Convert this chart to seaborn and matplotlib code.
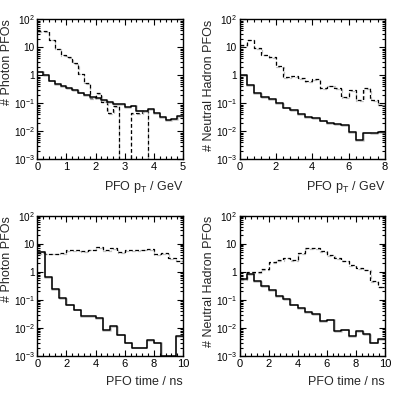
import numpy as np
import pandas as pd
import matplotlib
matplotlib.use("Agg")
import matplotlib.pyplot as plt
import matplotlib.patheffects as pe
from matplotlib.ticker import FixedLocator, FixedFormatter, AutoMinorLocator, LogLocator, NullFormatter
import seaborn as sns

sns.set_theme(style="ticks")
plt.rcParams['font.family'] = ['Liberation Sans', 'DejaVu Sans']
plt.rcParams['mathtext.fontset'] = 'custom'
plt.rcParams['mathtext.rm'] = 'Liberation Sans'
plt.rcParams['mathtext.it'] = 'Liberation Sans'
plt.rcParams['mathtext.default'] = 'regular'

# photon pT, 0-5 GeV, 0.2 GeV bins
pt_ph_edges = np.linspace(0, 5, 26)
pt_ph_solid = [1.35, 1.0, 0.65, 0.5, 0.42, 0.35, 0.3, 0.24, 0.2, 0.17, 0.15, 0.13, 0.11,
               0.097, 0.095, 0.074, 0.083, 0.055, 0.052, 0.063, 0.044, 0.033, 0.025, 0.027, 0.035]
pt_ph_dash = [38, 38, 19, 9, 5.2, 4.6, 2.8, 1.15, 0.52, 0.15, 0.23, 0.115, 0.044, 0.08,
              0, 0, 0.045, 0.045, 0.052, 0, 0, 0, 0, 0, 0]

# neutral hadron pT, 0-8 GeV, 0.4 GeV bins
pt_nh_edges = np.linspace(0, 8, 21)
pt_nh_solid = [1.0, 0.46, 0.23, 0.17, 0.14, 0.1, 0.07, 0.056, 0.04, 0.033, 0.03, 0.024,
               0.02, 0.018, 0.017, 0.0095, 0.005, 0.009, 0.0085, 0.0095]
pt_nh_dash = [12, 19, 9.5, 5.5, 4.5, 2.2, 0.87, 0.92, 0.8, 0.62, 0.74, 0.35, 0.43, 0.35,
              0.17, 0.29, 0.13, 0.35, 0.13, 0.09]

# photon time, 0-10 ns, 0.5 ns bins
t_ph_edges = np.linspace(0, 10, 21)
t_ph_solid = [5.3, 0.65, 0.24, 0.12, 0.068, 0.045, 0.026, 0.026, 0.022, 0.0085, 0.012,
              0.0058, 0.003, 0.002, 0.002, 0.0038, 0.003, 0.001, 0.001, 0.005]
t_ph_dash = [4.8, 4.5, 4.5, 4.6, 6.0, 6.0, 5.6, 6.2, 7.6, 6.0, 6.8, 5.0, 6.0, 6.0, 6.2,
             6.6, 4.3, 4.6, 3.0, 2.5]

# neutral hadron time, 0-10 ns, 0.5 ns bins
t_nh_edges = np.linspace(0, 10, 21)
t_nh_solid = [0.55, 0.85, 0.48, 0.32, 0.23, 0.14, 0.11, 0.068, 0.052, 0.036, 0.032, 0.017,
              0.02, 0.0075, 0.0087, 0.005, 0.008, 0.006, 0.003, 0.004]
t_nh_dash = [0.55, 0.97, 0.97, 1.25, 2.2, 2.7, 3.2, 2.7, 4.6, 7.0, 7.2, 5.6, 4.0, 3.0,
             2.5, 1.8, 1.4, 1.2, 0.48, 0.3]

ytick_vals = [1e-3, 1e-2, 1e-1, 1, 10, 100]
ytick_labels = [r'$10^{-3}$', r'$10^{-2}$', r'$10^{-1}$', '1', '10', r'$10^{2}$']

panels = [
    (pt_ph_edges, pt_ph_solid, pt_ph_dash, r'PFO p$_{T}$ / GeV', '# Photon PFOs', np.arange(0, 6, 1)),
    (pt_nh_edges, pt_nh_solid, pt_nh_dash, r'PFO p$_{T}$ / GeV', '# Neutral Hadron PFOs', np.arange(0, 9, 2)),
    (t_ph_edges, t_ph_solid, t_ph_dash, 'PFO time / ns', '# Photon PFOs', np.arange(0, 11, 2)),
    (t_nh_edges, t_nh_solid, t_nh_dash, 'PFO time / ns', '# Neutral Hadron PFOs', np.arange(0, 11, 2)),
]

rects = [
    [0.0917, 0.5967, 0.358, 0.3544],
    [0.5885, 0.5967, 0.3575, 0.3544],
    [0.0917, 0.0987, 0.358, 0.3552],
    [0.5885, 0.0987, 0.3575, 0.3552],
]
ylab_x = [-0.168, -0.168, -0.168, -0.168]

shadow = [pe.SimpleLineShadow(offset=(0.3, -0.6), shadow_color='0.7', alpha=0.8), pe.Normal()]

fig = plt.figure(figsize=(4.07, 3.95), dpi=100)

for rect, lx, (edges, solid, dash, xlab, ylab, xt) in zip(rects, ylab_x, panels):
    ax = fig.add_axes(rect)
    centers = 0.5 * (edges[:-1] + edges[1:])
    df = pd.DataFrame({'x': centers, 'solid': solid, 'dash': dash})
    sns.histplot(data=df, x='x', weights='dash', bins=list(edges), element="step", fill=False,
                 color="black", linestyle=(0, (3, 2)), linewidth=0.9, ax=ax,
                 path_effects=shadow)
    sns.histplot(data=df, x='x', weights='solid', bins=list(edges), element="step", fill=False,
                 color="black", linewidth=1.1, ax=ax, path_effects=shadow)
    ax.set_yscale('log', nonpositive='clip')
    ax.set_ylim(1e-3, 1e2)
    ax.set_xlim(edges[0], edges[-1])
    ax.yaxis.set_major_locator(FixedLocator(ytick_vals))
    ax.yaxis.set_major_formatter(FixedFormatter(ytick_labels))
    ax.yaxis.set_minor_locator(LogLocator(base=10, subs=np.arange(2, 10)))
    ax.yaxis.set_minor_formatter(NullFormatter())
    ax.set_xticks(xt)
    ax.xaxis.set_minor_locator(AutoMinorLocator(5))
    ax.tick_params(which='both', direction='in', top=True, right=True, labelsize=7.2,
                   colors='black', width=0.8)
    ax.tick_params(which='major', length=4.5, pad=2)
    ax.tick_params(axis='x', which='major', labelsize=8)
    ax.tick_params(which='minor', length=2.2)
    for s in ax.spines.values():
        s.set_linewidth(1.0)
        s.set_color('black')
    ax.set_xlabel(xlab, loc='right', fontsize=9, labelpad=5)
    ax.set_ylabel(ylab, loc='top', fontsize=9)
    ax.yaxis.set_label_coords(lx, 1.0)

fig.savefig("out.png", dpi=100, facecolor='white')
